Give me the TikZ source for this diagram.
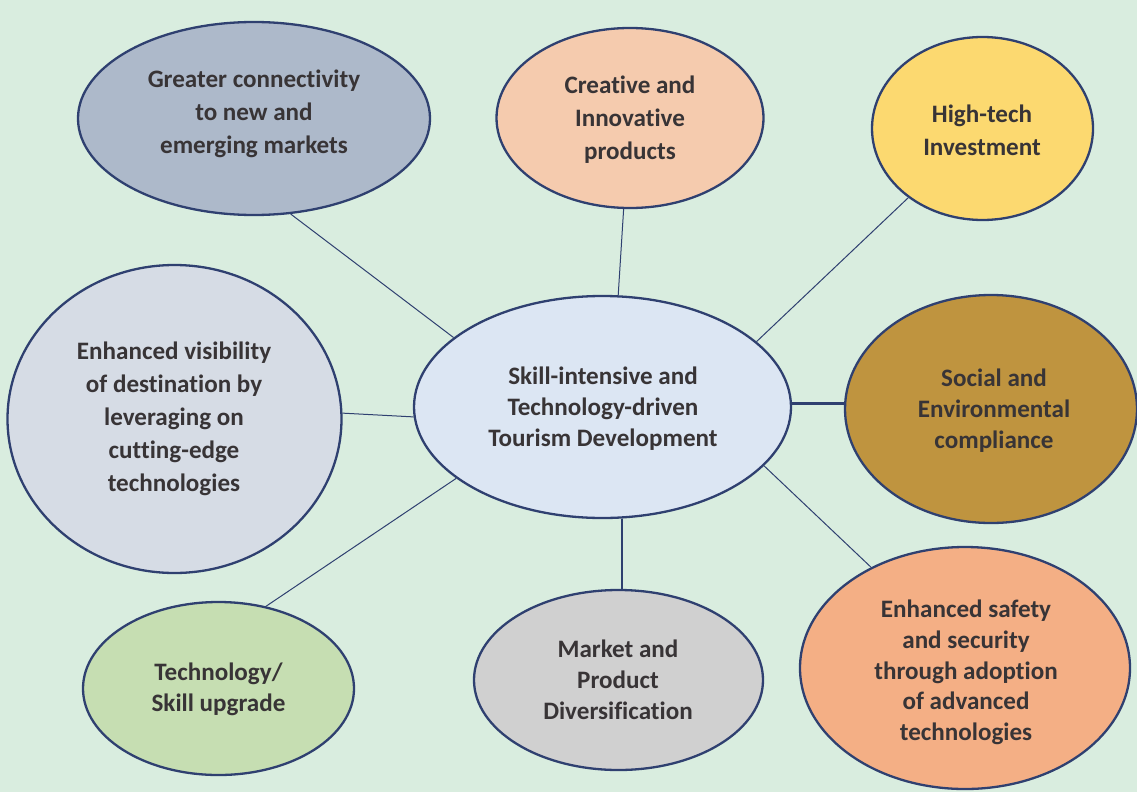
\documentclass[tikz,border=0pt]{standalone}
\usepackage{fontspec}
\setmainfont{Carlito}[Ligatures={NoCommon}]
\usetikzlibrary{shapes.geometric}
\definecolor{bg}{HTML}{D9EDDF}
\definecolor{bord}{HTML}{2F4070}
\definecolor{txt}{HTML}{383436}
\definecolor{cA}{HTML}{ADB9CA}
\definecolor{cB}{HTML}{F5CBAE}
\definecolor{cC}{HTML}{FCD970}
\definecolor{cD}{HTML}{DCE6F3}
\definecolor{cE}{HTML}{D6DCE5}
\definecolor{cF}{HTML}{BF943F}
\definecolor{cG}{HTML}{C6DEB2}
\definecolor{cH}{HTML}{D0D0D0}
\definecolor{cI}{HTML}{F4AF85}
\tikzset{
  bub/.style={ellipse, draw=bord, line width=2.3pt, inner sep=0pt},
  lbl/.style={text=txt, font=\bfseries\fontsize{25.1}{33}\selectfont, align=center, inner sep=0pt},
  lbltight/.style={lbl, font=\bfseries\fontsize{25.1}{30.8}\selectfont},
  thin/.style={draw=bord, line width=1pt},
  thick/.style={draw=bord, line width=2.5pt},
}
\begin{document}
\begin{tikzpicture}[x=1pt,y=-1pt]
\fill[bg] (0,0) rectangle (1137,792);
\useasboundingbox (0,0) rectangle (1137,792);
% bubbles
\node[bub, fill=cA, minimum width=352, minimum height=193] (e1) at (254,118.5) {};
\node[bub, fill=cB, minimum width=267, minimum height=180] (e2) at (630,118) {};
\node[bub, fill=cC, minimum width=221, minimum height=183] (e3) at (982.5,128.5) {};
\node[bub, fill=cD, minimum width=377, minimum height=222] (c) at (602.5,407) {};
\node[bub, fill=cE, minimum width=334, minimum height=308] (e5) at (174.5,419) {};
\node[bub, fill=cF, minimum width=292, minimum height=228] (e6) at (991,409) {};
\node[bub, fill=cG, minimum width=271, minimum height=173] (e7) at (218.5,688.5) {};
\node[bub, fill=cH, minimum width=289, minimum height=180] (e8) at (618.5,680) {};
\node[bub, fill=cI, minimum width=330, minimum height=242] (e9) at (965,668) {};
% labels
\node[lbl] (t1) at (254,113.5) {Greater connectivity\\to new and\\emerging markets};
\node[lbl] (t2) at (630,120) {Creative and\\Innovative\\products};
\node[lbl] (t3) at (982,130) {High-tech\\Investment};
\node[lbltight] (tc) at (603,408.5) {Skill-intensive and\\Technology-driven\\Tourism Development};
\node[lbl] (t5) at (174,418.5) {Enhanced visibility\\of destination by\\leveraging on\\cutting-edge\\technologies};
\node[lbltight] (t6) at (994,410.5) {Social and\\Environmental\\compliance};
\node[lbltight] (t7) at (218.5,689.5) {Technology/\\Skill upgrade};
\node[lbltight] (t8) at (618,680) {Market and\\Product\\Diversification};
\node[lbltight] (t9) at (966,672.5) {Enhanced safety\\and security\\through adoption\\of advanced\\technologies};
% connectors
\draw[thin] (c.155.9) -- (e1.-69.4);
\draw[thin] (c.82.3) -- (e2.-94.4);
\draw[thin] (c.23.6) -- (e3.-137.9);
\draw[thick] (c.1.5) -- (c.1.5 -| e6.west);
\draw[thin] (c.183) -- (e5.2.8);
\draw[thin] (c.-154.5) -- (e7.60);
\draw[thick] (c.-80.8) -- (c.-80.8 |- e8.north);
\draw[thin] (c.-20.9) -- (e9.133.5);
\end{tikzpicture}
\end{document}
